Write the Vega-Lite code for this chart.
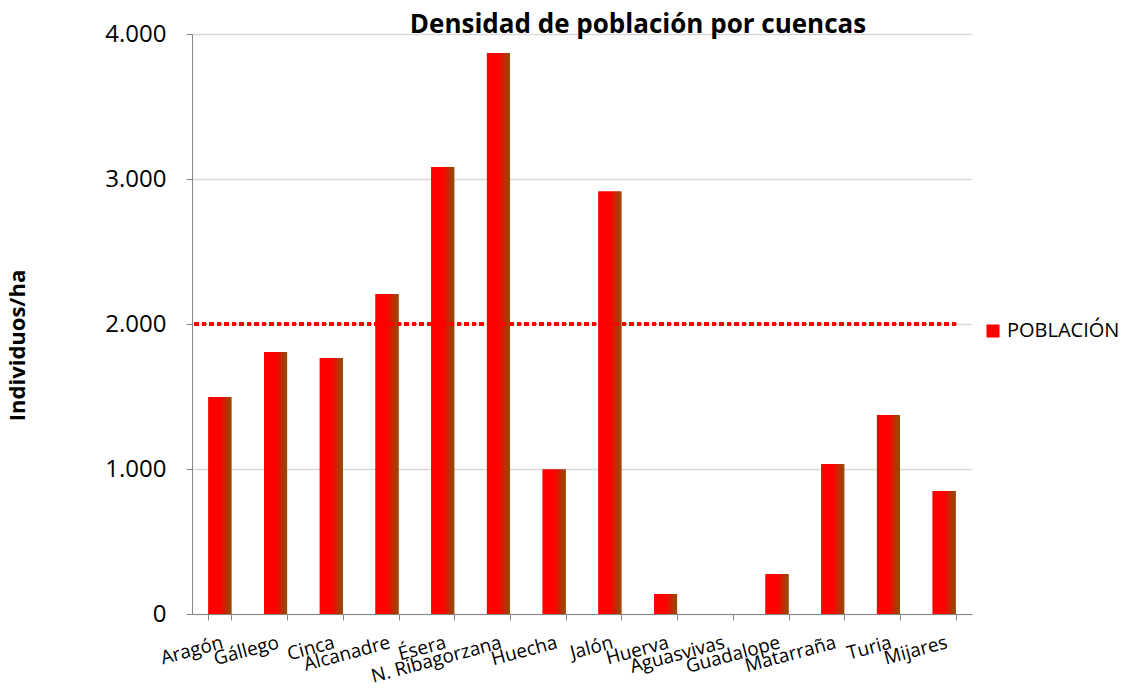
{
  "$schema": "https://vega.github.io/schema/vega-lite/v6.json",
  "autosize": {"type": "none"},
  "padding": {"left": 192, "top": 34, "right": 155, "bottom": 74},
  "width": 780,
  "height": 580,
  "background": "white",
  "title": {
    "text": "Densidad de población por cuencas",
    "font": "Open Sans",
    "fontSize": 26,
    "fontWeight": "bold",
    "color": "#000000",
    "anchor": "middle",
    "dx": 56,
    "dy": 41,
    "baseline": "alphabetic",
    "offset": 4
  },
  "config": {
    "view": {"stroke": null},
    "font": "Open Sans"
  },
  "data": {
    "values": [
      {"cuenca": "Aragón", "densidad": 1497, "serie": "POBLACIÓN"},
      {"cuenca": "Gállego", "densidad": 1807, "serie": "POBLACIÓN"},
      {"cuenca": "Cinca", "densidad": 1766, "serie": "POBLACIÓN"},
      {"cuenca": "Alcanadre", "densidad": 2207, "serie": "POBLACIÓN"},
      {"cuenca": "Ésera", "densidad": 3083, "serie": "POBLACIÓN"},
      {"cuenca": "N. Ribagorzana", "densidad": 3869, "serie": "POBLACIÓN"},
      {"cuenca": "Huecha", "densidad": 997, "serie": "POBLACIÓN"},
      {"cuenca": "Jalón", "densidad": 2914, "serie": "POBLACIÓN"},
      {"cuenca": "Huerva", "densidad": 138, "serie": "POBLACIÓN"},
      {"cuenca": "Aguasvivas", "densidad": 0, "serie": "POBLACIÓN"},
      {"cuenca": "Guadalope", "densidad": 276, "serie": "POBLACIÓN"},
      {"cuenca": "Matarraña", "densidad": 1034, "serie": "POBLACIÓN"},
      {"cuenca": "Turia", "densidad": 1372, "serie": "POBLACIÓN"},
      {"cuenca": "Mijares", "densidad": 848, "serie": "POBLACIÓN"}
    ]
  },
  "encoding": {
    "x": {
      "field": "cuenca",
      "type": "nominal",
      "sort": null,
      "scale": {"paddingInner": 0.587, "paddingOuter": 0.2935},
      "axis": {
        "title": null,
        "labelAngle": -15,
        "labelAlign": "right",
        "labelBaseline": "top",
        "labelFont": "Open Sans",
        "labelFontSize": 19,
        "labelColor": "#000000",
        "labelPadding": 13,
        "tickBand": "extent",
        "tickSize": 6,
        "tickColor": "#868686",
        "domainColor": "#868686",
        "labelOverlap": false,
        "labelBound": false,
        "grid": false
      }
    },
    "y": {
      "field": "densidad",
      "type": "quantitative",
      "scale": {"domain": [0, 4000], "nice": false},
      "axis": {
        "values": [0, 1000, 2000, 3000, 4000],
        "labelExpr": "replace(format(datum.value, ','), ',', '.')",
        "labelFont": "Open Sans",
        "labelFontSize": 24,
        "labelColor": "#000000",
        "labelPadding": 20,
        "tickSize": 6,
        "tickColor": "#868686",
        "domainColor": "#868686",
        "gridColor": "#D9D9D9",
        "gridWidth": 1.5,
        "title": "Individuos/ha",
        "titleFont": "Open Sans",
        "titleFontSize": 22,
        "titleFontWeight": "bold",
        "titleColor": "#000000",
        "titleAngle": -90,
        "titleAlign": "center",
        "titleBaseline": "bottom",
        "titleX": -163,
        "titleY": 311
      }
    }
  },
  "layer": [
    {
      "mark": {"type": "bar"},
      "encoding": {
        "color": {
          "field": "serie",
          "type": "nominal",
          "scale": {"range": ["#FF0000"]},
          "legend": {
            "title": null,
            "orient": "none",
            "legendX": 791,
            "legendY": 287,
            "symbolType": "square",
            "symbolSize": 170,
            "labelFont": "Open Sans",
            "labelFontSize": 20,
            "labelColor": "#000000",
            "labelOffset": 4,
            "encode": {
              "symbols": {
                "update": {
                  "fill": {"value": {"gradient": "linear", "x1": 0, "x2": 1, "y1": 0, "y2": 0, "stops": [{"offset": 0, "color": "#FF0000"}, {"offset": 0.45, "color": "#FF0000"}, {"offset": 1, "color": "#8B5000"}]}},
                  "stroke": {"value": null},
                  "opacity": {"value": 1}
                }
              }
            }
          }
        }
      }
    },
    {
      "mark": {
        "type": "bar",
        "fill": {"gradient": "linear", "x1": 0, "x2": 1, "y1": 0, "y2": 0, "stops": [{"offset": 0, "color": "#FF0000"}, {"offset": 0.5, "color": "#FF0000"}, {"offset": 1, "color": "#8B5000"}]}
      }
    },
    {
      "mark": {"type": "rule", "color": "#FF0000", "strokeWidth": 3, "strokeDash": [4, 3.5]},
      "encoding": {
        "x": {"datum": "Aragón", "bandPosition": -0.6},
        "x2": {"datum": "Mijares", "bandPosition": 1.1},
        "y": {"datum": 2000}
      }
    }
  ]
}
